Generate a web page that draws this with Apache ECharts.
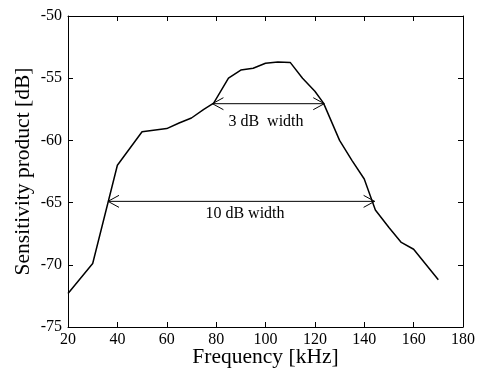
<!DOCTYPE html>
<html>
<head>
<meta charset="utf-8">
<script src="https://cdn.jsdelivr.net/npm/echarts@6/dist/echarts.min.js"></script>
<style>html,body{margin:0;padding:0;background:#fff;}#c{width:478px;height:370px;}</style>
</head>
<body>
<div id="c"></div>
<script>
// Frequency (kHz) and sensitivity product (dB)
const freq = [20, 30, 40, 50, 60, 65, 70, 75, 79, 85, 90, 95, 100, 105, 110, 115, 120, 123.5, 130, 135, 140, 144.5, 150, 155, 160, 170];
const sens = [-72.3, -69.9, -62.0, -59.3, -59.05, -58.6, -58.2, -57.5, -57.0, -55.0, -54.35, -54.2, -53.8, -53.7, -53.73, -55.0, -56.05, -57.0, -60.0, -61.6, -63.1, -65.6, -67.0, -68.2, -68.75, -71.2];
// Width arrows: [startFreq, level, endFreq]
const arrows = [[78.5, -57.05, 123.8], [36.2, -64.9, 144.2]];
// Annotation labels: [freq, level, text]
const labels = [[100.2, -58.5, '3 dB  width'], [91.7, -65.9, '10 dB width']];
const xTicks = {min: 20, max: 180, interval: 20};
const yTicks = {min: -75, max: -50, interval: 5};

const FONT = 'Liberation Serif';
const chart = echarts.init(document.getElementById('c'), null, {renderer: 'canvas'});
const axisCommon = {
  axisLine: {show: true, onZero: false, lineStyle: {color: '#000', width: 1}},
  axisTick: {show: true, inside: true, length: 5, lineStyle: {color: '#000'}},
  splitLine: {show: false}
};
chart.setOption({
  animation: false,
  backgroundColor: '#fff',
  grid: {left: 68, right: 15, top: 16, bottom: 43, containLabel: false, outerBoundsMode: 'none'},
  xAxis: [
    Object.assign({type: 'value', position: 'bottom', min: xTicks.min, max: xTicks.max, interval: xTicks.interval,
      name: 'Frequency [kHz]', nameLocation: 'middle', nameGap: 19, nameMoveOverlap: false,
      nameTextStyle: {fontFamily: FONT, fontSize: 21.5, color: '#000'},
      axisLabel: {fontFamily: FONT, fontSize: 16, color: '#000', margin: 5}}, axisCommon),
    Object.assign({type: 'value', position: 'top', min: xTicks.min, max: xTicks.max, interval: xTicks.interval,
      axisLabel: {show: false}}, axisCommon)
  ],
  yAxis: [
    Object.assign({type: 'value', position: 'left', min: yTicks.min, max: yTicks.max, interval: yTicks.interval,
      name: 'Sensitivity product [dB]', nameLocation: 'middle', nameGap: 34, nameMoveOverlap: false,
      nameTextStyle: {fontFamily: FONT, fontSize: 21.5, color: '#000'},
      axisLabel: {fontFamily: FONT, fontSize: 16, color: '#000', margin: 6}}, axisCommon),
    Object.assign({type: 'value', position: 'right', min: yTicks.min, max: yTicks.max, interval: yTicks.interval,
      axisLabel: {show: false}}, axisCommon)
  ],
  series: [
    {
      type: 'line',
      data: freq.map((f, i) => [f, sens[i]]),
      showSymbol: false,
      lineStyle: {color: '#000', width: 1.5},
      silent: true
    },
    {
      type: 'custom',
      data: arrows,
      silent: true,
      renderItem: function (params, api) {
        const a = api.coord([api.value(0), api.value(1)]);
        const b = api.coord([api.value(2), api.value(1)]);
        const L = 11, H = 6;
        return {
          type: 'group',
          children: [
            {type: 'line', shape: {x1: a[0], y1: a[1], x2: b[0], y2: b[1]}, style: {stroke: '#000', lineWidth: 1}},
            {type: 'polyline', shape: {points: [[a[0] + L, a[1] - H], [a[0], a[1]], [a[0] + L, a[1] + H]]}, style: {stroke: '#000', lineWidth: 1, fill: null}},
            {type: 'polyline', shape: {points: [[b[0] - L, b[1] - H], [b[0], b[1]], [b[0] - L, b[1] + H]]}, style: {stroke: '#000', lineWidth: 1, fill: null}}
          ]
        };
      }
    },
    {
      type: 'custom',
      data: labels,
      silent: true,
      dimensions: ['x', 'y', {name: 't', type: 'ordinal'}],
      renderItem: function (params, api) {
        const p = api.coord([api.value(0), api.value(1)]);
        const txt = labels[params.dataIndex][2];
        return {
          type: 'text',
          style: {text: txt, x: p[0], y: p[1], align: 'center', verticalAlign: 'middle',
            font: '16px "' + FONT + '"', fill: '#000'}
        };
      }
    }
  ]
});
</script>
</body>
</html>
